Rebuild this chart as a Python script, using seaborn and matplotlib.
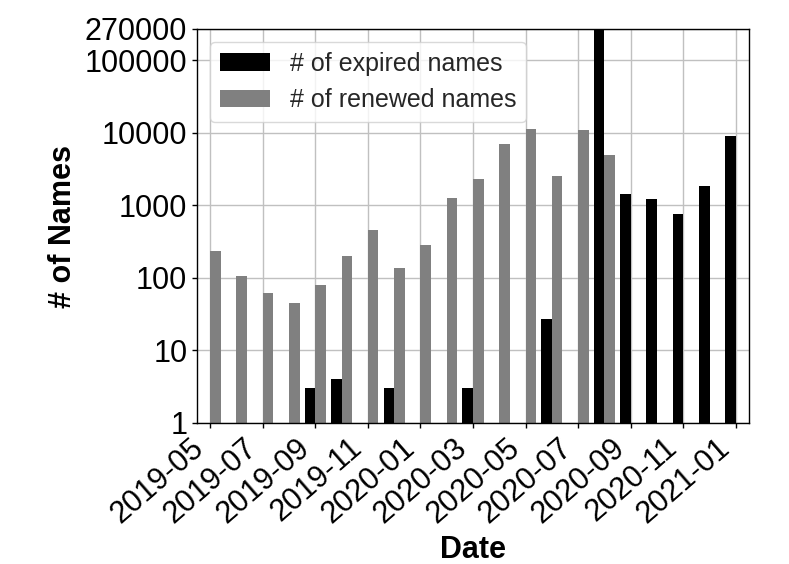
import numpy as np
import pandas as pd
import matplotlib
matplotlib.use("Agg")
import matplotlib.pyplot as plt
import seaborn as sns

months = ["2019-05", "2019-06", "2019-07", "2019-08", "2019-09", "2019-10", "2019-11",
          "2019-12", "2020-01", "2020-02", "2020-03", "2020-04", "2020-05", "2020-06",
          "2020-07", "2020-08", "2020-09", "2020-10", "2020-11", "2020-12", "2021-01"]
expired = [np.nan, np.nan, np.nan, np.nan, 3, 4, np.nan,
           3, np.nan, np.nan, 3, np.nan, np.nan, 27,
           np.nan, 270000, 1430, 1220, 760, 1850, 9000]
renewed = [232, 105, 61, 45, 81, 200, 460,
           139, 281, 1265, 2320, 6960, 11250, 2550,
           10900, 5000, np.nan, np.nan, np.nan, np.nan, np.nan]
series_names = ["# of expired names", "# of renewed names"]
yticks = [1, 10, 100, 1000, 10000, 100000, 270000]
ytick_labels = ["1", "10", "100", "1000", "10000", "100000", "270000"]

df = pd.DataFrame({
    "Date": months * 2,
    "Series": [series_names[0]] * len(months) + [series_names[1]] * len(months),
    "Names": expired + renewed,
}).dropna()

sns.set_theme(style="whitegrid")
plt.rcParams["font.family"] = ["Liberation Sans", "DejaVu Sans"]

fig = plt.figure(figsize=(7.89, 5.64), dpi=100)
ax = fig.add_axes([197 / 789, 1 - 423 / 564, 552 / 789, 394 / 564])

sns.barplot(data=df, x="Date", y="Names", hue="Series", order=months,
            hue_order=series_names, palette=["black", "#808080"],
            errorbar=None, width=0.8, linewidth=0, saturation=1, ax=ax)

ax.set_yscale("log")
ax.set_ylim(1, 270000)
ax.set_yticks(yticks)
ax.set_yticklabels(ytick_labels)
ax.yaxis.set_minor_locator(matplotlib.ticker.NullLocator())

tick_pos = list(range(0, len(months), 2))
ax.set_xticks(tick_pos)
ax.set_xticklabels([months[i] for i in tick_pos], rotation=41, ha="right",
                   rotation_mode="default")
ax.set_xlim(-0.5, len(months) - 0.5)

ax.grid(True, color="#c0c0c0", linewidth=1)
ax.set_axisbelow(True)
for s in ax.spines.values():
    s.set_color("black")
    s.set_linewidth(1.0)
ax.tick_params(axis="both", which="major", labelsize=22, colors="black",
               length=3.5, width=1, direction="out", bottom=True, left=True, pad=3.5)

ax.set_xlabel("Date", fontsize=22, fontweight="bold", color="black", labelpad=4.5)
ax.set_ylabel("# of Names", fontsize=22, fontweight="bold", color="black", labelpad=5)

ax.legend(loc="upper left", fontsize=18, frameon=True, title=None,
          borderaxespad=0.5, fancybox=True, framealpha=0.8, edgecolor="#d0d0d0")

fig.savefig("out.png", dpi=100)
